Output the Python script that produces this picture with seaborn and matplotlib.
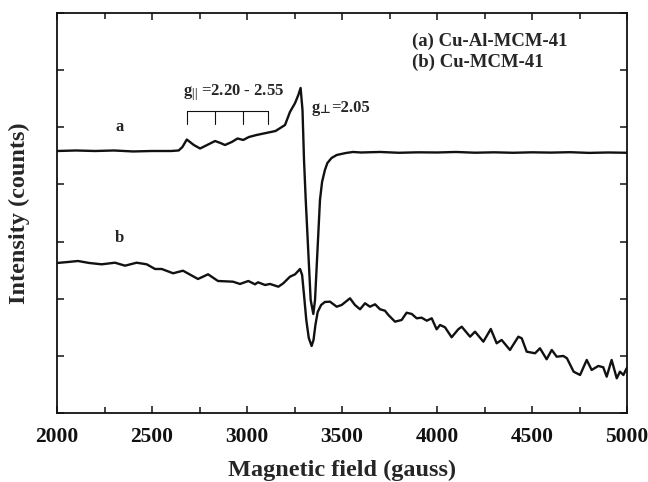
import numpy as np
import pandas as pd
import matplotlib
matplotlib.use("Agg")
import matplotlib.pyplot as plt
import seaborn as sns

# EPR spectra, magnetic field (gauss) vs. intensity (arbitrary offset units)
field_a = [2000, 2100, 2200, 2300, 2400, 2500, 2600, 2640, 2660, 2683, 2720, 2753,
           2790, 2832, 2860, 2884, 2920, 2950, 2980, 3010, 3050, 3100, 3150, 3200,
           3226, 3253, 3270, 3282, 3292, 3300, 3309, 3322, 3335, 3349, 3358, 3371,
           3384, 3395, 3410, 3423, 3445, 3472, 3520, 3558, 3600, 3700, 3800, 3900,
           4000, 4100, 4200, 4300, 4400, 4500, 4600, 4700, 4800, 4900, 5000]
intensity_a = [4.585, 4.594, 4.585, 4.594, 4.577, 4.585, 4.585, 4.594, 4.655, 4.786,
               4.690, 4.629, 4.690, 4.760, 4.725, 4.690, 4.743, 4.804, 4.778, 4.830,
               4.865, 4.900, 4.935, 5.040, 5.268, 5.425, 5.565, 5.688, 5.303, 4.428,
               3.728, 2.853, 1.978, 1.733, 1.978, 2.853, 3.728, 4.043, 4.253, 4.375,
               4.463, 4.515, 4.550, 4.568, 4.559, 4.568, 4.554, 4.562, 4.559, 4.568,
               4.555, 4.562, 4.554, 4.562, 4.557, 4.564, 4.552, 4.559, 4.554]

field_b = [2000, 2060, 2110, 2170, 2235, 2305, 2358, 2419, 2472, 2516, 2551, 2611,
           2663, 2742, 2795, 2847, 2926, 2963, 3007, 3042, 3058, 3095, 3121, 3165,
           3191, 3226, 3253, 3279, 3290, 3300, 3312, 3325, 3340, 3350, 3360, 3372,
           3390, 3410, 3437, 3472, 3498, 3542, 3568, 3595, 3621, 3647, 3674, 3700,
           3726, 3744, 3779, 3814, 3840, 3867, 3893, 3919, 3946, 3972, 3998, 4016,
           4042, 4077, 4112, 4130, 4174, 4200, 4244, 4283, 4314, 4340, 4384, 4428,
           4446, 4472, 4516, 4542, 4577, 4604, 4630, 4665, 4684, 4719, 4753, 4788,
           4814, 4849, 4875, 4893, 4919, 4946, 4963, 4981, 4998]
intensity_b = [2.625, 2.643, 2.660, 2.625, 2.602, 2.630, 2.578, 2.630, 2.602, 2.520,
               2.520, 2.445, 2.490, 2.345, 2.427, 2.310, 2.298, 2.258, 2.310, 2.252,
               2.287, 2.240, 2.258, 2.210, 2.270, 2.385, 2.427, 2.520, 2.415, 2.065,
               1.628, 1.313, 1.172, 1.278, 1.540, 1.768, 1.890, 1.943, 1.948, 1.860,
               1.890, 2.007, 1.890, 1.815, 1.920, 1.860, 1.902, 1.815, 1.790, 1.715,
               1.598, 1.628, 1.755, 1.733, 1.657, 1.668, 1.615, 1.657, 1.465, 1.540,
               1.500, 1.325, 1.465, 1.510, 1.335, 1.423, 1.248, 1.470, 1.220, 1.278,
               1.103, 1.335, 1.307, 1.073, 1.045, 1.132, 0.940, 1.103, 0.985, 0.998,
               0.957, 0.723, 0.665, 0.928, 0.753, 0.823, 0.800, 0.635, 0.928, 0.607,
               0.723, 0.665, 0.782]

x_ticks = [2000, 2500, 3000, 3500, 4000, 4500, 5000]
x_minor = [2250, 2750, 3250, 3750, 4250, 4750]
y_ticks = [0, 1, 2, 3, 4, 5, 6, 7]

# hyperfine markers of the parallel component
hf_positions = [2683, 2832, 2981, 3112]

sns.set_theme(style="ticks")
plt.rcParams["font.family"] = ["Liberation Serif", "DejaVu Serif"]
plt.rcParams["font.weight"] = "bold"
plt.rcParams["mathtext.fontset"] = "custom"
plt.rcParams["mathtext.rm"] = "Liberation Serif:bold"
plt.rcParams["mathtext.it"] = "Liberation Serif:bold"
plt.rcParams["mathtext.bf"] = "Liberation Serif:bold"

fig = plt.figure(figsize=(6.48, 4.82), dpi=100)
ax = fig.add_axes([0.088, 0.1432, 0.8796, 0.8298])

df_a = pd.DataFrame({"field": field_a, "intensity": intensity_a})
df_b = pd.DataFrame({"field": field_b, "intensity": intensity_b})
sns.lineplot(data=df_a, x="field", y="intensity", ax=ax, color="#111111", lw=1.7,
             estimator=None, sort=False)
sns.lineplot(data=df_b, x="field", y="intensity", ax=ax, color="#111111", lw=1.7,
             estimator=None, sort=False)

ax.set_xlim(2000, 5000)
ax.set_ylim(0, 7)
ax.set_xticks(x_ticks)
ax.set_xticks(x_minor, minor=True)
ax.set_yticks(y_ticks)
ax.set_yticklabels([])
ax.tick_params(axis="both", which="both", direction="in", top=True, right=True,
               width=1.1, colors="#111111")
ax.tick_params(axis="both", which="major", length=5)
ax.tick_params(axis="x", which="minor", length=4)
ax.tick_params(axis="x", which="major", labelsize=15.5, pad=10)
for sp in ax.spines.values():
    sp.set_linewidth(1.3)
    sp.set_color("#111111")

ax.set_xlabel("Magnetic field (gauss)", fontsize=17.5, fontweight="bold", labelpad=9)
ax.set_ylabel("Intensity (counts)", fontsize=17.5, fontweight="bold", labelpad=16)

# curve labels
ax.text(2330, 5.0, "a", fontsize=12, fontweight="bold", ha="center", va="center")
ax.text(2330, 3.07, "b", fontsize=12, fontweight="bold", ha="center", va="center")

# hyperfine bracket
y_top, y_bot = 5.285, 5.05
ax.plot([hf_positions[0], hf_positions[-1]], [y_top, y_top], color="#111111", lw=0.8)
for p in hf_positions:
    ax.plot([p, p], [y_top, y_bot], color="#111111", lw=0.8)

ax.text(2665, 5.6, r"g$_{\mathregular{||}}$ =2.20 - 2.55", fontsize=12,
        fontweight="bold", ha="left", va="center")

# perpendicular g value: "g", a small perpendicular sign, then the value
g_anchor = (3340, 5.27)
ax.annotate("g", g_anchor, fontsize=12, fontweight="bold", ha="left", va="baseline")
ax.annotate("\u22a5", g_anchor, xytext=(6.0, -1.0), textcoords="offset points",
            fontsize=8.5, fontweight="bold", family=["DejaVu Sans"],
            ha="left", va="baseline")
ax.annotate("=2.05", g_anchor, xytext=(14.0, 0), textcoords="offset points",
            fontsize=12, fontweight="bold", ha="left", va="baseline")

ax.text(3870, 6.51, "(a) Cu-Al-MCM-41", fontsize=13.5, fontweight="bold",
        ha="left", va="center")
ax.text(3870, 6.14, "(b) Cu-MCM-41", fontsize=13.5, fontweight="bold",
        ha="left", va="center")

fig.savefig("out.png", dpi=100)
